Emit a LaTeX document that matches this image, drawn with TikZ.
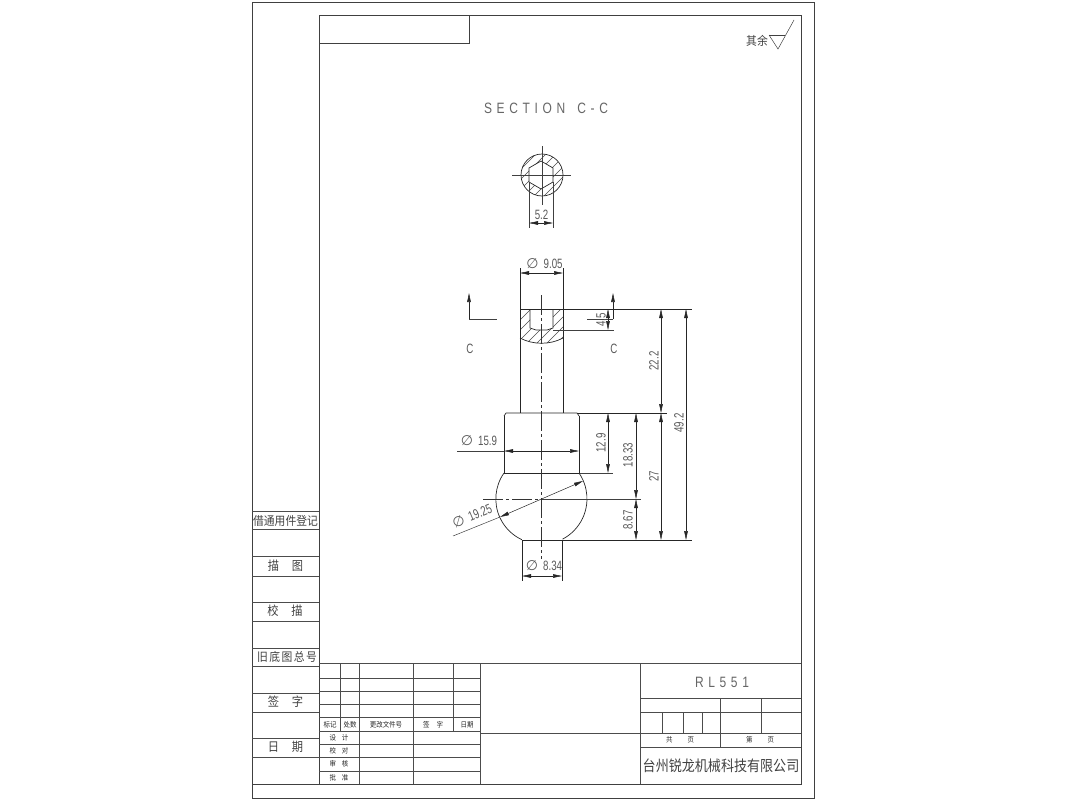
\documentclass[tikz,border=0pt]{standalone}
\usepackage{fontspec}
\usetikzlibrary{arrows.meta}
\newfontfamily\cad[FakeStretch=0.72]{Liberation Sans}
\newfontfamily\cadwide[FakeStretch=0.8,LetterSpace=31]{Liberation Sans}
\newfontfamily\cadsym{DejaVu Sans}
\newfontfamily\cjk[FakeStretch=0.9]{Noto Sans CJK SC}
\newfontfamily\cjktall[FakeStretch=0.87]{Noto Sans CJK SC}
\newcommand\dia{{\cadsym\fontsize{14}{14}\selectfont ∅}\hspace{5pt}}
\tikzset{
  sheet/.style={line width=0.7pt,draw=black!75},
  gridln/.style={line width=0.6pt,draw=black!70},
  partln/.style={line width=0.7pt,draw=black!85},
  thin2/.style={line width=0.5pt,draw=black!75},
  hatchline/.style={line width=0.45pt,draw=black!70},
  centerln/.style={line width=0.5pt,draw=black!80,dash pattern=on 20pt off 3pt on 3pt off 3pt},
  dimline/.style={line width=0.5pt,draw=black!85,<->,>={Triangle[length=9pt,width=3.6pt]}},
  secarrow/.style={line width=0.6pt,draw=black!85,->,>={Triangle[length=9pt,width=3.6pt]}},
  dimtext/.style={font=\cad\fontsize{13.5}{13.5}\selectfont,text=black!65,inner sep=0pt},
  bigtext/.style={font=\cadwide\fontsize{15}{15}\selectfont,text=black!60,inner sep=0pt},
  cjkL/.style={font=\cjk\fontsize{12.5}{12.5}\selectfont,text=black!75,inner sep=0pt},
  cjkS/.style={font=\cjk\fontsize{7.2}{7.2}\selectfont,text=black!85,inner sep=0pt},
  cjkC/.style={font=\cjktall\fontsize{15}{15}\selectfont,text=black!75,inner sep=0pt},
}
\begin{document}
\begin{tikzpicture}[x=1pt,y=-1pt]
\useasboundingbox (0,0) rectangle (1067,800);
% sheet frame
\draw[sheet] (252,2) rectangle (814,798);
\draw[sheet] (319,15) rectangle (801,784);
\draw[sheet] (319,43) -- (469,43) -- (469,15);
\draw[sheet] (252,784) -- (319,784);
% left column
\foreach \y in {511,529,556,576,602,621,648,666,693,712,738,757}
  \draw[gridln] (252,\y) -- (319,\y);
\node[cjkL,font=\cjk\fontsize{12}{12}\selectfont] (reg) at (285.5,521) {借通用件登记};
\node[cjkL] (trace) at (285.5,566) {描\hspace{13pt}图};
\node[cjkL] (chk) at (285,611) {校\hspace{13pt}描};
\node[cjkL,font=\cjk\fontsize{12}{12}\selectfont] (old) at (287,657) {旧\hspace{1.5pt}底\hspace{1.5pt}图\hspace{1.5pt}总\hspace{1.5pt}号};
\node[cjkL] (sign) at (285.5,702) {签\hspace{13pt}字};
\node[cjkL] (date) at (285.5,747) {日\hspace{13pt}期};
% roughness
\node[cjkL,font=\cjk\fontsize{12}{12}\selectfont] (rest) at (757,41) {其余};
\draw[thin2] (769,35) -- (785,35);
\draw[thin2] (769,35) -- (778,49) -- (794,20);
% revision table
\foreach \y in {663,678,691,704,717,731,744,757,771}
  \draw[gridln] (319,\y) -- (480,\y);
\draw[gridln] (340,663) -- (340,731);
\draw[gridln] (453,663) -- (453,731);
\draw[gridln] (359,663) -- (359,784);
\draw[gridln] (413,663) -- (413,784);
\draw[gridln] (480,663) -- (480,784);
\node[cjkS] at (330,724.5) {标记};
\node[cjkS] at (350,724.5) {处数};
\node[cjkS] at (386,724.5) {更改文件号};
\node[cjkS] at (433,724.5) {签\hspace{7pt}字};
\node[cjkS] at (467,724.5) {日期};
\node[cjkS] at (339,737.5) {设\hspace{6pt}计};
\node[cjkS] at (339,751) {校\hspace{6pt}对};
\node[cjkS] at (339,764) {审\hspace{6pt}核};
\node[cjkS] at (339,777.5) {批\hspace{6pt}准};
% title block
\draw[gridln] (480,663) -- (801,663);
\draw[gridln] (480,733) -- (801,733);
\draw[gridln] (640,663) -- (640,784);
\draw[gridln] (640,698) -- (801,698);
\draw[gridln] (640,712) -- (801,712);
\draw[gridln] (640,747) -- (801,747);
\draw[gridln] (720,698) -- (720,747);
\draw[gridln] (761,698) -- (761,733);
\foreach \x in {662,683,702} \draw[gridln] (\x,712) -- (\x,733);
\node[bigtext] (model) at (722,682) {RL551};
\node[cjkS] at (680,740) {共\hspace{15pt}页};
\node[cjkS] at (760,740) {第\hspace{15pt}页};
\node[cjkC] (company) at (721,765.5) {台州锐龙机械科技有限公司};
% section view
\node[bigtext] (title) at (546,108) {SECTION\hspace{4pt} C-C};
\begin{scope}[even odd rule]
  \clip (542,175) circle (21)
    (529,168) -- (541,161) -- (553,168) -- (553,182) -- (541,189) -- (529,182) -- cycle;
  \foreach \c in {680,690,...,760}
    \draw[hatchline] ({\c-140},140) -- ({\c-210},210);
\end{scope}
\draw[partln] (542,175) circle (21);
\draw[partln] (529,168) -- (541,161) -- (553,168) -- (553,182) -- (541,189) -- (529,182) -- cycle;
\draw[thin2] (512,175) -- (571,175);
\draw[thin2] (542,146) -- (542,205);
\draw[thin2] (529,182) -- (529,228);
\draw[thin2] (553,182) -- (553,228);
\draw[dimline] (529,223) -- (553,223);
\node[dimtext] at (541.5,215) {5.2};
% main view: hatch
\begin{scope}
  \clip (520,309) -- (530,309) -- (530,328) -- (536,330) -- (547,330) -- (553,328) -- (553,309) -- (563,309) -- (563,338)
    .. controls (550,345) and (533,345) .. (520,338) -- cycle;
  \foreach \c in {820,830,...,920}
    \draw[hatchline] ({\c-295},295) -- ({\c-350},350);
\end{scope}
% main view: outline
\draw[partln] (520,268) -- (520,413);
\draw[partln] (563,268) -- (563,413);
\draw[partln] (530,309) -- (530,328) -- (536,330) -- (547,330) -- (553,328) -- (553,309);
\draw[partln] (520,338) .. controls (533,345) and (550,345) .. (563,338);
\draw[partln] (520,309) -- (692,309);
\draw[thin2] (553,330) -- (614,330);
\draw[partln] (504,416) -- (506,413) -- (577,413) -- (579,416);
\draw[partln] (577,413) -- (667,413);
\draw[partln] (504,416) -- (504,473);
\draw[partln] (579,416) -- (579,473);
\draw[partln] (504,473) -- (579,473);
\draw[thin2] (579,473) -- (613,473);
\draw[partln] (504,473) arc[start angle=215.1,end angle=114.9,radius=45];
\draw[partln] (579,473) arc[start angle=-34.4,end angle=62.3,radius=45.6];
\draw[partln] (522,540) -- (692,540);
\draw[partln] (522,540) -- (522,581);
\draw[partln] (562,540) -- (562,581);
% center lines
\draw[centerln] (541.5,295) -- (541.5,559);
\draw[centerln] (483,499) -- (541.5,499);
\draw[thin2] (541.5,499) -- (641,499);
% section marks
\draw[secarrow] (469,319) -- (469,293);
\draw[thin2] (469,319) -- (497,319);
\draw[secarrow] (613,319) -- (613,293);
\draw[thin2] (587,319) -- (613,319);
\node[dimtext] at (470,349) {C};
\node[dimtext] at (614,349) {C};
% dimensions
\draw[dimline] (520,273) -- (563,273);
\node[dimtext] at (544.5,264) {\dia 9.05};
\draw[dimline] (608,309) -- (608,330);
\node[dimtext,rotate=90] at (601,320) {4.5};
\draw[dimline] (661,309) -- (661,413);
\node[dimtext,rotate=90] at (654,361) {22.2};
\draw[dimline] (686,309) -- (686,540);
\node[dimtext,rotate=90] at (679,423) {49.2};
\draw[thin2] (457,451) -- (504,451);
\draw[dimline] (504,451) -- (579,451);
\node[dimtext] at (479,441) {\dia 15.9};
\draw[dimline] (608,413) -- (608,473);
\node[dimtext,rotate=90] at (601,443) {12.9};
\draw[dimline] (636,413) -- (636,499);
\node[dimtext,rotate=90] at (628,455) {18.33};
\draw[dimline] (636,499) -- (636,540);
\node[dimtext,rotate=90] at (628,520) {8.67};
\draw[dimline] (661,413) -- (661,540);
\node[dimtext,rotate=90] at (654,476) {27};
\draw[dimline] (500,517) -- (583,481);
\draw[thin2] (453,536) -- (500,517);
\node[dimtext,rotate=23] at (472,516) {\dia 19.25};
\draw[dimline] (522,576) -- (562,576);
\node[dimtext] at (544,566) {\dia 8.34};
\end{tikzpicture}
\end{document}
